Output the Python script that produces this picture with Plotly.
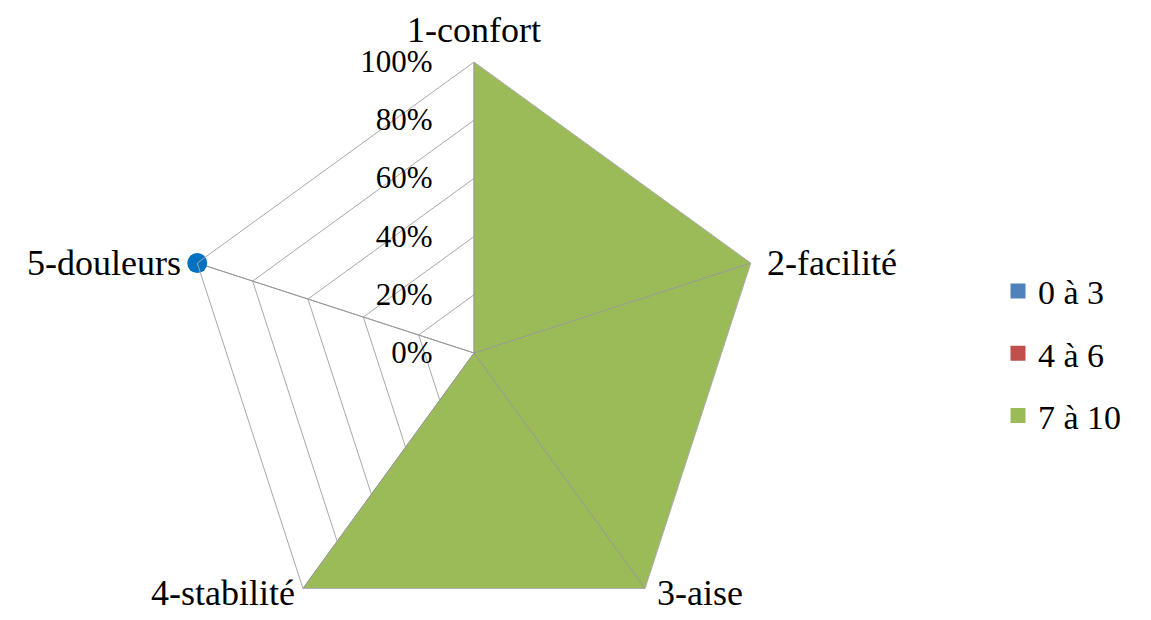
import math
import plotly.graph_objects as go

categories = ['1-confort', '2-facilité', '3-aise', '4-stabilité', '5-douleurs']
series_names = ['0 à 3', '4 à 6', '7 à 10']
vals_0_3 = [0, 0, 0, 0, 1]
vals_4_6 = [0, 0, 0, 0, 0]
vals_7_10 = [1, 1, 1, 1, 0]
radial_ticks = [0, 0.2, 0.4, 0.6, 0.8, 1.0]

legend_colors = ['#4F81BD', '#C0504D', '#9BBB59']
grid_color = '#A8A8A8'
font_family = 'Liberation Serif, Times New Roman, serif'

# figure geometry (px)
W, H = 1143, 640
cx, cy, R = 466, 345, 291

fig = go.Figure()

series = [vals_0_3, vals_4_6, vals_7_10]
for name, vals, col in zip(series_names, series, legend_colors):
    fig.add_trace(go.Scatterpolar(
        r=vals + vals[:1],
        theta=categories + categories[:1],
        fill='toself',
        fillcolor=col,
        mode='lines',
        line=dict(width=0, color=col),
        name=name,
        showlegend=False,
        hoverinfo='skip'
    ))

# spokes drawn above the filled area
spoke_r = []
spoke_theta = []
for c in categories:
    spoke_r += [0, 1, None]
    spoke_theta += [c, c, None]
fig.add_trace(go.Scatterpolar(
    r=spoke_r, theta=spoke_theta, mode='lines',
    line=dict(color='#999999', width=1),
    showlegend=False, hoverinfo='skip'
))

# marker for 0 à 3
pts = [(c, v) for c, v in zip(categories, vals_0_3) if v > 0]
fig.add_trace(go.Scatterpolar(
    r=[v for c, v in pts],
    theta=[c for c, v in pts],
    mode='markers',
    marker=dict(color='#0070C0', size=20),
    showlegend=False
))

# legend entries
for name, col in zip(series_names, legend_colors):
    fig.add_trace(go.Scatterpolar(
        r=[None], theta=[None], mode='markers', name=name,
        legendgroup=name,
        marker=dict(symbol='square', size=15, color=col)
    ))

# category labels placed next to each vertex
label_style = [
    dict(dx=0, dy=-32, xanchor='center'),
    dict(dx=14, dy=0, xanchor='left'),
    dict(dx=10, dy=5, xanchor='left'),
    dict(dx=-6, dy=5, xanchor='right'),
    dict(dx=-14, dy=0, xanchor='right'),
]
annotations = []
for i, (cat, st) in enumerate(zip(categories, label_style)):
    a = math.radians(90 - 72 * i)
    vx = cx + R * math.cos(a) + st['dx']
    vy = cy - R * math.sin(a) + st['dy']
    annotations.append(dict(
        text=cat, x=vx / W, y=1 - vy / H, xref='paper', yref='paper',
        xanchor=st['xanchor'], yanchor='middle', showarrow=False,
        font=dict(size=36, family=font_family, color='black')
    ))

fig.update_layout(
    width=W,
    height=H,
    margin=dict(l=0, r=0, t=0, b=0),
    paper_bgcolor='white',
    font=dict(family=font_family, color='black'),
    annotations=annotations,
    polar=dict(
        domain=dict(x=[(cx - R) / W, (cx + R) / W],
                    y=[1 - (cy + R) / H, 1 - (cy - R) / H]),
        gridshape='linear',
        bgcolor='white',
        radialaxis=dict(
            range=[0, 1],
            tickvals=radial_ticks,
            tickformat='.0%',
            angle=90,
            tickangle=90,
            side='counterclockwise',
            showline=False,
            ticks='outside',
            ticklen=30,
            tickcolor='rgba(0,0,0,0)',
            gridcolor=grid_color,
            gridwidth=1,
            tickfont=dict(size=31, family=font_family, color='black')
        ),
        angularaxis=dict(
            rotation=90,
            direction='clockwise',
            categoryarray=categories,
            linecolor=grid_color,
            gridcolor=grid_color,
            ticks='',
            showticklabels=False
        )
    ),
    legend=dict(
        x=990 / W, y=1 - 345.5 / H, yanchor='middle', xanchor='left',
        font=dict(size=34, family=font_family),
        tracegroupgap=15,
        itemwidth=30
    ),
    showlegend=True
)

fig.write_html("out.html")
